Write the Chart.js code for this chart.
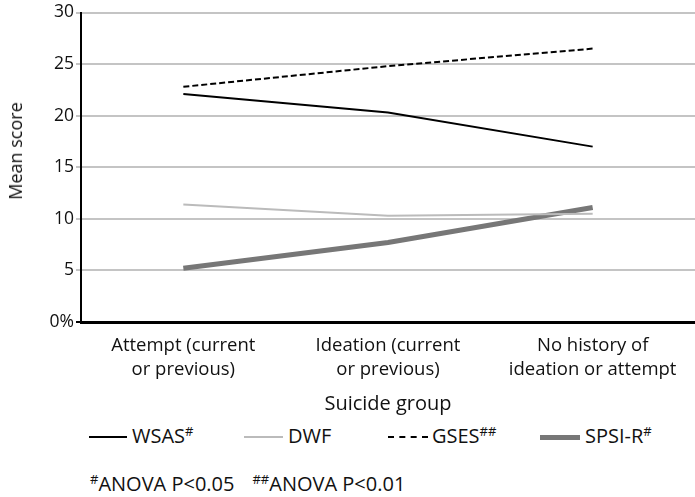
<!DOCTYPE html>
<html>
<head>
<meta charset="utf-8">
<script src="https://cdn.jsdelivr.net/npm/chart.js@4"></script>
<style>
  body { margin: 0; background: #fff; font-family: "Open Sans", sans-serif; color: #111; }
  #wrap { position: relative; width: 695px; height: 497px; }
  #box { position: absolute; left: 0; top: 0; width: 695px; height: 420px; }
  #ytitle { position: absolute; left: 15px; top: 151px; font-size: 18px; white-space: nowrap;
            transform: translate(-50%, -50%) rotate(-90deg); }
  .leg { position: absolute; top: 423px; height: 26px; }
  .leg span.s { position: absolute; top: 13px; }
  .leg span.t { position: absolute; font-size: 20px; white-space: nowrap; top: 0; line-height: 26px; }
  sup { font-size: 13px; vertical-align: 7px; line-height: 0; }
  #note { position: absolute; left: 90px; top: 472px; font-size: 20px; white-space: nowrap; line-height: 24px; }
</style>
</head>
<body>
<div id="wrap">
  <div id="box"><canvas id="c"></canvas></div>
  <div id="ytitle">Mean score</div>
  <div class="leg" style="left:0">
    <span class="s" style="left:89px;width:38px;border-top:2px solid #000"></span>
    <span class="t" style="left:132px">WSAS<sup>#</sup></span>
    <span class="s" style="left:244px;width:39px;border-top:2px solid #bbb"></span>
    <span class="t" style="left:288px">DWF</span>
    <span class="s" style="left:388px;width:40px;border-top:2px dashed #000"></span>
    <span class="t" style="left:432px">GSES<sup>##</sup></span>
    <span class="s" style="left:540px;width:40px;top:12px;border-top:5px solid #777"></span>
    <span class="t" style="left:585px">SPSI-R<sup>#</sup></span>
  </div>
  <div id="note"><sup>#</sup>ANOVA P&lt;0.05<span style="display:inline-block;width:18px"></span><sup>##</sup>ANOVA P&lt;0.01</div>
</div>
<script>
const categories = [
  ["Attempt (current", "or previous)"],
  ["Ideation (current", "or previous)"],
  ["No history of", "ideation or attempt"]
];
const wsas = [22.1, 20.3, 17.0];
const dwf = [11.4, 10.3, 10.5];
const gses = [22.8, 24.8, 26.5];
const spsi = [5.2, 7.7, 11.1];
const yTicks = [0, 5, 10, 15, 20, 25, 30];

const fam = "'Open Sans', sans-serif";

new Chart(document.getElementById("c"), {
  type: "line",
  data: {
    labels: categories,
    datasets: [
      { label: "GSES", data: gses, borderColor: "#000", borderWidth: 2, borderDash: [6, 3], pointRadius: 0, tension: 0 },
      { label: "WSAS", data: wsas, borderColor: "#000", borderWidth: 2, pointRadius: 0, tension: 0 },
      { label: "DWF", data: dwf, borderColor: "#bbb", borderWidth: 2, pointRadius: 0, tension: 0 },
      { label: "SPSI-R", data: spsi, borderColor: "#777", borderWidth: 5, pointRadius: 0, tension: 0 },
    ],
  },
  options: {
    responsive: true,
    maintainAspectRatio: false,
    animation: false,
    layout: { padding: { top: 10, right: 0 } },
    scales: {
      x: {
        offset: true,
        afterFit: (axis) => { axis.height = 98; },
        grid: { display: false, drawTicks: false },
        border: { color: "#000", width: 3 },
        ticks: { color: "#111", font: { family: fam, size: 18.5, lineHeight: 1.3 }, padding: 12, maxRotation: 0 },
        title: { display: true, text: "Suicide group", color: "#111", font: { family: fam, size: 20 }, padding: { top: 0 } },
      },
      y: {
        min: 0,
        max: 30,
        afterFit: (axis) => { axis.width = 81; },
        afterBuildTicks: (axis) => { axis.ticks = yTicks.map((v) => ({ value: v })); },
        grid: { color: "#c4c4c4", lineWidth: 2, tickLength: 5, tickColor: (ctx) => ctx.tick && ctx.tick.value === 0 ? "#000" : "#c4c4c4" },
        border: { color: "#000", width: 2 },
        ticks: { color: "#111", font: { family: fam, size: 17.5 }, padding: 2, callback: (v) => v === 0 ? "0%" : v },
        title: { display: false },
      },
    },
    plugins: {
      legend: { display: false },
      tooltip: { enabled: false },
    },
  },
});
</script>
</body>
</html>
